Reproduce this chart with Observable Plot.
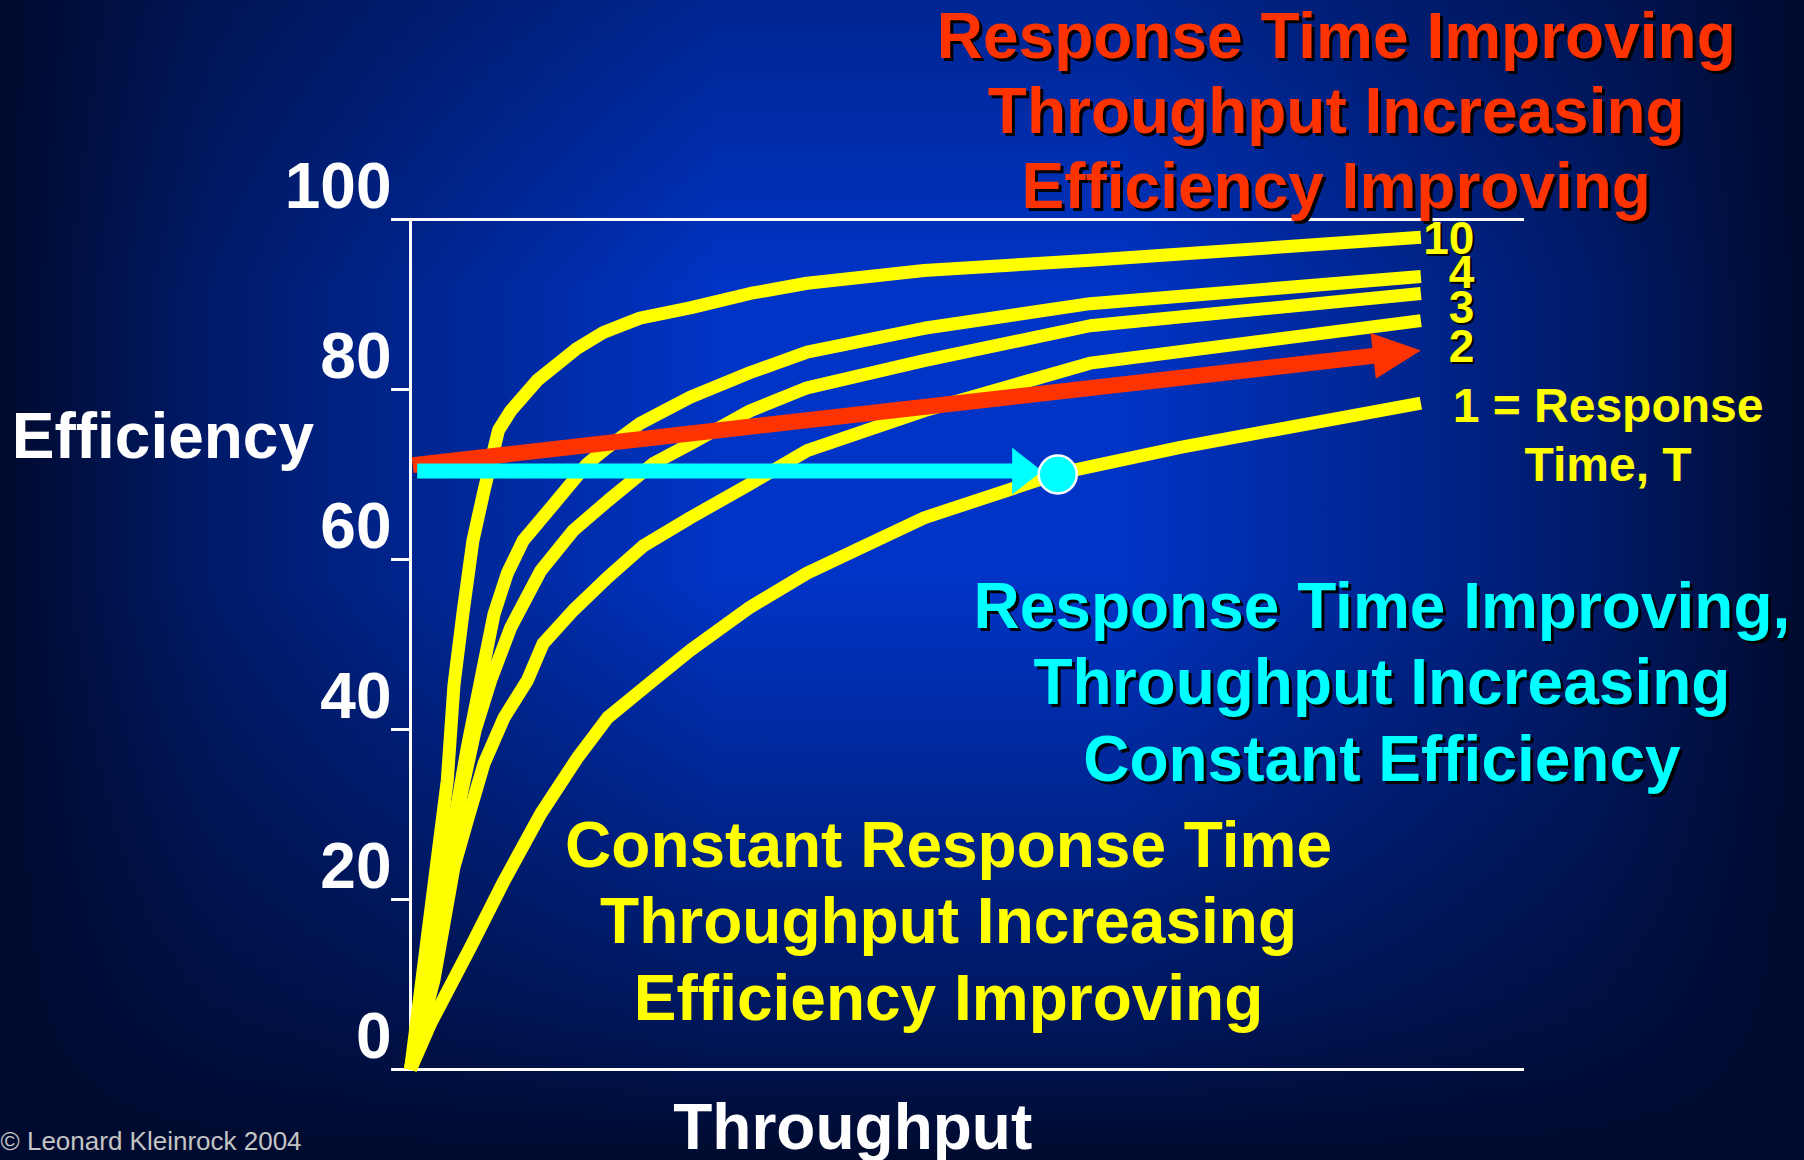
<!DOCTYPE html>
<html>
<head>
<meta charset="utf-8">
<script src="https://cdn.jsdelivr.net/npm/d3@7"></script>
<script src="https://cdn.jsdelivr.net/npm/@observablehq/plot@0.6"></script>
<style>
html, body { margin: 0; padding: 0; }
body {
  width: 1804px; height: 1160px; overflow: hidden;
  background:
    linear-gradient(to right, #000a2e 0%, rgba(0,10,46,0.6) 12%, rgba(0,10,46,0) 40%, rgba(0,10,46,0) 62%, rgba(0,10,46,0.6) 88%, #000a2e 100%),
    linear-gradient(to bottom, rgba(0,10,46,0.35) 0%, rgba(0,10,46,0) 25%, rgba(0,10,46,0) 50%, rgba(0,10,46,0.65) 86%, #000a2e 100%),
    #0034c6;
}
#chart svg { display: block; }
</style>
</head>
<body>
<div id="chart"></div>
<script>
// ---- data (Throughput on a 0..100 scale, Efficiency in %) ----
const yTicks = [0, 20, 40, 60, 80, 100];

const seriesNames = ["10", "4", "3", "2", "1"];

const throughputT10 = [0, 3.3, 3.9, 4.7, 5.6, 6.6, 7.4, 7.9, 9.0, 11.4, 14.9, 17.3, 20.6, 25.1, 30.5, 35.6, 46.1, 61.0, 90.7];
const efficiencyT10 = [0, 34.0, 45.2, 53.6, 62.2, 68.1, 72.5, 75.2, 77.5, 81.1, 84.8, 86.7, 88.4, 89.6, 91.3, 92.5, 94.0, 95.2, 97.9];

const throughputT4 = [0, 5.1, 6.3, 7.5, 8.7, 10.1, 12.6, 15.9, 17.7, 20.6, 25.1, 30.5, 35.6, 46.1, 61.0, 90.7];
const efficiencyT4 = [0, 37.9, 45.8, 53.6, 58.4, 62.2, 66.1, 71.3, 73.2, 76.0, 79.1, 82.0, 84.4, 87.2, 90.1, 93.3];

const throughputT3 = [0, 3.3, 4.5, 5.8, 7.2, 9.0, 11.7, 14.6, 17.7, 21.8, 25.1, 30.5, 35.6, 46.1, 61.0, 90.7];
const efficiencyT3 = [0, 23.8, 32.0, 39.9, 45.8, 52.0, 58.7, 63.4, 66.9, 71.3, 73.6, 77.5, 80.2, 83.4, 87.5, 91.3];

const throughputT2 = [0, 2.1, 3.9, 5.1, 6.6, 8.4, 10.5, 11.9, 14.6, 17.7, 20.9, 25.1, 30.5, 35.6, 46.1, 61.0, 90.7];
const efficiencyT2 = [0, 10.5, 23.8, 29.3, 36.0, 41.4, 45.8, 50.1, 54.0, 57.9, 61.6, 64.9, 68.9, 72.8, 77.5, 83.1, 88.1];

const throughputT1 = [0, 1.8, 5.4, 8.4, 11.7, 15.0, 17.7, 21.8, 25.1, 30.5, 35.6, 46.1, 58.1, 69.1, 90.7];
const efficiencyT1 = [0, 5.4, 14.4, 22.2, 30.1, 36.7, 41.4, 45.8, 49.3, 54.4, 58.4, 64.9, 70.1, 73.2, 78.4];

// arrows: [throughput, efficiency]
const redArrowFrom = [0.2, 71.1];
const redArrowTo = [90.7, 84.6];
const cyanArrowFrom = [0.6, 70.4];
const cyanArrowTo = [56.7, 70.4];
const cyanPoint = [58.1, 70.0];

// texts
const curveLabels = ["10", "4", "3", "2"];
const responseLabel = ["1 = Response", "Time, T"];
const redTitle = ["Response Time Improving", "Throughput Increasing", "Efficiency Improving"];
const cyanNote = ["Response Time Improving,", "Throughput Increasing", "Constant Efficiency"];
const yellowNote = ["Constant Response Time", "Throughput Increasing", "Efficiency Improving"];
const yLabel = "Efficiency";
const xLabel = "Throughput";
const credit = "\u00A9 Leonard Kleinrock 2004";

// ---- build tables ----
const seriesX = [throughputT10, throughputT4, throughputT3, throughputT2, throughputT1];
const seriesY = [efficiencyT10, efficiencyT4, efficiencyT3, efficiencyT2, efficiencyT1];
const curves = seriesNames.flatMap((name, s) =>
  seriesX[s].map((x, i) => ({series: name, throughput: x, efficiency: seriesY[s][i]})));

// ---- layout ----
const W = 1804, H = 1160;
const mL = 410, mR = 280, mT = 219, mB = 91;
const pxPerX = (W - mL - mR) / 100, pxPerY = (H - mT - mB) / 100;

const YELLOW = "#ffff00", RED = "#ff3300", CYAN = "#00ffff";
const FONT = "'Liberation Sans', Arial, Helvetica, sans-serif";

function lerp(a, b, t) { return [a[0] + (b[0] - a[0]) * t, a[1] + (b[1] - a[1]) * t]; }
function pixelLength(a, b) { return Math.hypot((b[0] - a[0]) * pxPerX, (b[1] - a[1]) * pxPerY); }
function angleDeg(a, b) { return Math.atan2(-(b[1] - a[1]) * pxPerY, (b[0] - a[0]) * pxPerX) * 180 / Math.PI; }

// arrowhead symbol with the tip at the origin, pointing right
function arrowHead(lengthK, widthK) {
  return {
    draw(context, size) {
      const r = Math.sqrt(size / Math.PI);
      const L = lengthK * r, w = widthK * r / 2;
      context.moveTo(0, 0);
      context.lineTo(-L, -w);
      context.lineTo(-L, w);
      context.closePath();
    }
  };
}

const redHeadLen = 48, cyanHeadLen = 30;
const redShaftEnd = lerp(redArrowFrom, redArrowTo, 1 - (redHeadLen - 2) / pixelLength(redArrowFrom, redArrowTo));
const cyanShaftEnd = lerp(cyanArrowFrom, cyanArrowTo, 1 - (cyanHeadLen - 2) / pixelLength(cyanArrowFrom, cyanArrowTo));

const labelRows = curveLabels.map((t, i) => ({t, y: [96.0, 92.0, 87.8, 83.2][i]}));

function shadowText(text, opts, color, off) {
  return [
    Plot.text([text], {...opts, fill: "black", dx: (opts.dx || 0) + off, dy: (opts.dy || 0) + off}),
    Plot.text([text], {...opts, fill: color})
  ];
}

const chart = Plot.plot({
  width: W, height: H,
  marginLeft: mL, marginRight: mR, marginTop: mT, marginBottom: mB,
  x: {domain: [0, 100], axis: null},
  y: {domain: [0, 100], axis: null},
  style: {background: "none", fontFamily: FONT, overflow: "visible"},
  marks: [
    Plot.ruleY([0, 100], {stroke: "white", strokeWidth: 3}),
    Plot.ruleX([0], {y1: 0, y2: 100, stroke: "white", strokeWidth: 3}),
    Plot.axisY(yTicks, {tickSize: 19, stroke: "white", strokeWidth: 3, fill: "none", label: null}),
    Plot.text(yTicks, {y: d => d, text: d => String(d), frameAnchor: "left", textAnchor: "end",
      dx: -19, dy: -12, lineAnchor: "bottom", fill: "white", fontSize: 64, fontWeight: "bold"}),

    Plot.line(curves, {x: "throughput", y: "efficiency", z: "series", stroke: YELLOW,
      strokeWidth: 13, strokeLinejoin: "round", strokeLinecap: "butt", curve: "linear"}),

    // red arrow
    Plot.line([redArrowFrom, redShaftEnd], {x: d => d[0], y: d => d[1], stroke: RED, strokeWidth: 16, strokeLinecap: "butt"}),
    Plot.dot([redArrowTo], {x: d => d[0], y: d => d[1], r: 20, symbol: arrowHead(2.4, 2.3),
      fill: RED, stroke: "none", rotate: angleDeg(redArrowFrom, redArrowTo)}),

    // cyan arrow and point
    Plot.line([cyanArrowFrom, cyanShaftEnd], {x: d => d[0], y: d => d[1], stroke: CYAN, strokeWidth: 15, strokeLinecap: "butt"}),
    Plot.dot([cyanArrowTo], {x: d => d[0], y: d => d[1], r: 20, symbol: arrowHead(1.5, 2.35),
      fill: CYAN, stroke: "none", rotate: 0}),
    Plot.dot([cyanPoint], {x: d => d[0], y: d => d[1], r: 19, fill: CYAN, stroke: "white", strokeWidth: 2.5}),

    // curve labels
    Plot.text(labelRows, {x: 95.5, y: "y", text: "t", textAnchor: "end", lineAnchor: "bottom",
      fill: "black", dx: 2, dy: 2, fontSize: 46, fontWeight: "bold"}),
    Plot.text(labelRows, {x: 95.5, y: "y", text: "t", textAnchor: "end", lineAnchor: "bottom",
      fill: YELLOW, fontSize: 46, fontWeight: "bold"}),
    Plot.text([responseLabel.join("\n")], {x: 107.5, y: 69.2, textAnchor: "middle", lineAnchor: "bottom",
      lineHeight: 1.23, fill: YELLOW, fontSize: 48, fontWeight: "bold"}),

    // annotations
    ...shadowText(redTitle.join("\n"), {x: 83.1, y: 101.4, textAnchor: "middle", lineAnchor: "bottom",
      lineHeight: 1.17, fontSize: 64, fontWeight: "bold"}, RED, 3),
    ...shadowText(cyanNote.join("\n"), {x: 87.2, y: 34.0, textAnchor: "middle", lineAnchor: "bottom",
      lineHeight: 1.19, fontSize: 64, fontWeight: "bold"}, CYAN, 3),
    Plot.text([yellowNote.join("\n")], {x: 48.3, y: 5.8, textAnchor: "middle", lineAnchor: "bottom",
      lineHeight: 1.2, fill: YELLOW, fontSize: 64, fontWeight: "bold"}),

    // axis titles and credit
    Plot.text([yLabel], {x: -35.8, y: 71.9, textAnchor: "start", lineAnchor: "bottom",
      fill: "white", fontSize: 64, fontWeight: "bold"}),
    Plot.text([xLabel], {x: 39.7, y: -9.3, textAnchor: "middle", lineAnchor: "bottom",
      fill: "white", fontSize: 64, fontWeight: "bold"}),
    Plot.text([credit], {x: -36.8, y: -9.5, textAnchor: "start", lineAnchor: "bottom",
      fill: "#c4c4c4", fontSize: 26})
  ]
});
document.getElementById("chart").appendChild(chart);
</script>
</body>
</html>
